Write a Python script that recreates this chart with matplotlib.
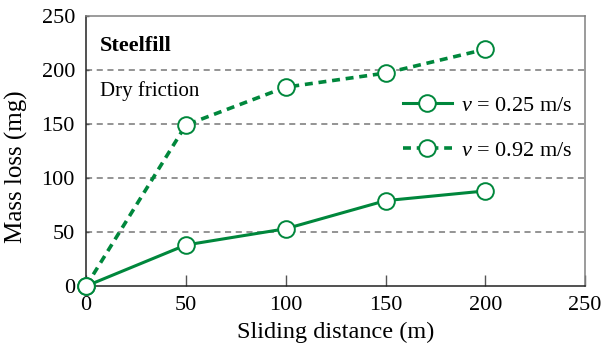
import matplotlib.pyplot as plt

plt.rcParams['font.family'] = 'serif'
plt.rcParams['font.serif'] = ['Liberation Serif', 'DejaVu Serif']
plt.rcParams['mathtext.fontset'] = 'custom'
plt.rcParams['mathtext.it'] = 'Liberation Serif:italic'
plt.rcParams['mathtext.rm'] = 'Liberation Serif'

distance = [0, 50, 100, 150, 200]
loss_025 = [0, 38, 53, 79, 88]
loss_092 = [0, 149, 184, 197, 219]
green = '#00873c'

fig = plt.figure(figsize=(6.02, 3.51), dpi=100)
ax = fig.add_axes([0.143, 0.185, 0.829, 0.77])

ax.plot(distance, loss_025, '-', color=green, lw=2.2, marker='o', ms=12,
        mfc='white', mec=green, mew=1.4, label=r'$v$ = 0.25 m/s', zorder=3, clip_on=False)
ax.plot(distance, loss_092, '--', color=green, lw=2.6, dashes=(2.2, 1.6), marker='o', ms=12,
        mfc='white', mec=green, mew=1.4, label=r'$v$ = 0.92 m/s', zorder=3, clip_on=False)

ax.set_xlim(0, 250)
ax.set_ylim(0, 250)
ax.set_xticks([0, 50, 100, 150, 200, 250])
ax.set_yticks([0, 50, 100, 150, 200, 250])
for y in [50, 100, 150, 200]:
    ax.axhline(y, color='#777777', lw=1.1, ls=(0, (4, 3)), zorder=1)

ax.tick_params(axis='x', direction='in', length=8, width=1, color='#555555',
               labelsize=16, pad=7)
ax.tick_params(axis='y', direction='in', length=2.5, width=1, color='#555555',
               labelsize=16, pad=8)
for side in ['top', 'right']:
    ax.spines[side].set_color('#808080')
for side in ['left', 'bottom']:
    ax.spines[side].set_color('#222222')
for s in ax.spines.values():
    s.set_linewidth(1.1)

ax.set_xlabel('Sliding distance (m)', fontsize=17.5, labelpad=5)
ax.set_ylabel('Mass loss (mg)', fontsize=18)
ax.yaxis.set_label_coords(-0.117, 0.44)

ax.text(0.028, 0.89, 'Steelfill', transform=ax.transAxes, fontsize=16,
        fontweight='bold', va='center')
ax.text(0.028, 0.72, 'Dry friction', transform=ax.transAxes, fontsize=15,
        va='center')

ax.legend(loc='center right', bbox_to_anchor=(1.0, 0.583), frameon=False, fontsize=16,
          handlelength=2.2, handletextpad=0.4, labelspacing=1.1, borderaxespad=0.2)

fig.savefig('out.png', dpi=100)
